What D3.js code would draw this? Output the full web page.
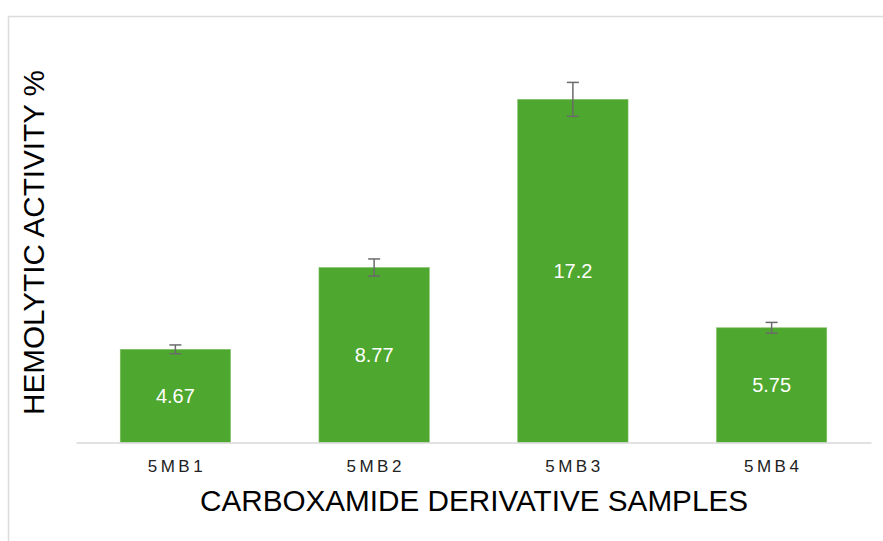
<!DOCTYPE html>
<html>
<head>
<meta charset="utf-8">
<script src="https://cdn.jsdelivr.net/npm/d3@7"></script>
<style>
  html, body { margin: 0; padding: 0; background: #fff; }
  svg { display: block; font-family: "Liberation Sans", Arial, sans-serif; }
</style>
</head>
<body>
<svg id="chart" width="883" height="541"></svg>
<script>
const categories = ["5MB1", "5MB2", "5MB3", "5MB4"];
const values = [4.67, 8.77, 17.2, 5.75];
const errors = [0.22, 0.43, 0.85, 0.27];
const valueLabels = ["4.67", "8.77", "17.2", "5.75"];
const xTitle = "CARBOXAMIDE DERIVATIVE SAMPLES";
const yTitle = "HEMOLYTIC ACTIVITY %";

const svg = d3.select("#chart");

// outer frame
svg.append("rect")
  .attr("x", 8.5).attr("y", 16.5)
  .attr("width", 900).attr("height", 560)
  .attr("fill", "#fff")
  .attr("stroke", "#dcdcdc")
  .attr("stroke-width", 1.5);

const x = d3.scaleBand().domain(categories).range([76, 871]).paddingInner(0.445).paddingOuter(0.2225);
const y = d3.scaleLinear().domain([0, 20]).range([442.5, 43.5]);

// bars
svg.selectAll("rect.bar").data(categories).enter().append("rect")
  .attr("class", "bar")
  .attr("x", d => x(d))
  .attr("width", x.bandwidth())
  .attr("y", (d, i) => y(values[i]))
  .attr("height", (d, i) => y(0) - y(values[i]))
  .attr("fill", "#4ea72e")
  .attr("stroke", "#7fc066")
  .attr("stroke-width", 0.6);

// x axis
const xAxis = d3.axisBottom(x).tickSize(0).tickPadding(17);
const gx = svg.append("g").attr("transform", `translate(0,${y(0)})`).call(xAxis);
gx.select(".domain").attr("stroke", "#d9d9d9").attr("stroke-width", 1.5);
gx.selectAll(".tick text")
  .attr("font-size", 17)
  .attr("fill", "#222")
  .attr("letter-spacing", "3.5px")
  .attr("dx", "1.5")
  .attr("font-family", "Liberation Sans, Arial, sans-serif");

// error bars
const eb = svg.append("g").attr("stroke", "#6b6b6b").attr("stroke-width", 1.5).attr("fill", "none");
categories.forEach((c, i) => {
  const cx = x(c) + x.bandwidth() / 2;
  const y1 = y(values[i] + errors[i]);
  const y2 = y(values[i] - errors[i]);
  eb.append("line").attr("x1", cx).attr("x2", cx).attr("y1", y1).attr("y2", y2);
  eb.append("line").attr("x1", cx - 6).attr("x2", cx + 6).attr("y1", y1).attr("y2", y1);
  eb.append("line").attr("x1", cx - 6).attr("x2", cx + 6).attr("y1", y2).attr("y2", y2);
});

// value labels
svg.selectAll("text.val").data(categories).enter().append("text")
  .attr("class", "val")
  .attr("x", d => x(d) + x.bandwidth() / 2)
  .attr("y", (d, i) => (y(values[i]) + y(0)) / 2)
  .attr("dy", "0.35em")
  .attr("text-anchor", "middle")
  .attr("font-size", 20)
  .attr("fill", "#fff")
  .text((d, i) => valueLabels[i]);

// axis titles
svg.append("text")
  .attr("x", 474).attr("y", 511)
  .attr("text-anchor", "middle")
  .attr("font-size", 29)
  .attr("fill", "#000")
  .attr("textLength", 548)
  .attr("lengthAdjust", "spacingAndGlyphs")
  .text(xTitle);

svg.append("text")
  .attr("transform", "translate(44,242.5) rotate(-90)")
  .attr("text-anchor", "middle")
  .attr("font-size", 29)
  .attr("fill", "#000")
  .attr("textLength", 345)
  .attr("lengthAdjust", "spacingAndGlyphs")
  .text(yTitle);
</script>
</body>
</html>
